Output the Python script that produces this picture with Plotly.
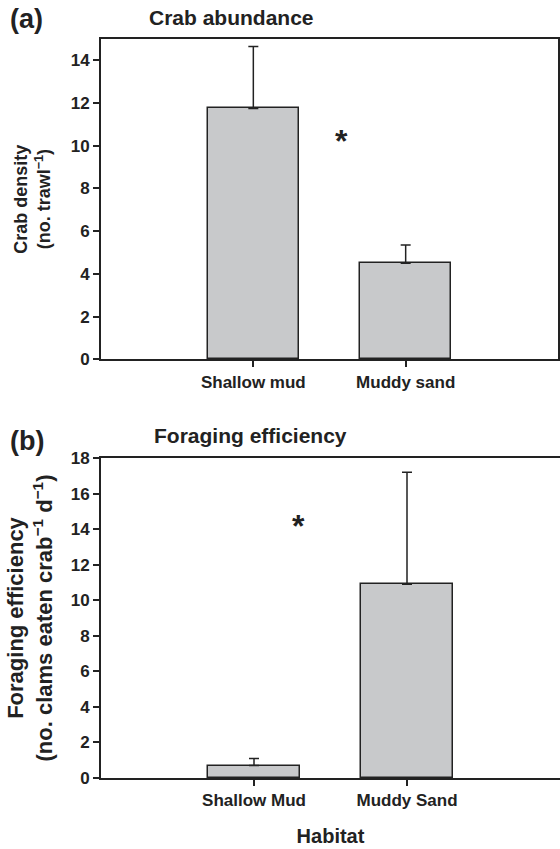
import plotly.graph_objects as go

# Panel (a) data
cats_a = ["Shallow mud", "Muddy sand"]
crab_density = [11.75, 4.5]
crab_err = [2.9, 0.85]

# Panel (b) data
cats_b = ["Shallow Mud", "Muddy Sand"]
forage_eff = [0.7, 10.9]
forage_err = [0.4, 6.3]

xpos = [0, 1]
FONT = "Liberation Sans, Arial, sans-serif"
INK = "#222222"
BAR = "#c8c9cb"

fig = go.Figure()

fig.add_trace(go.Bar(
    x=xpos, y=crab_density, width=0.6, xaxis="x", yaxis="y",
    marker=dict(color=BAR, line=dict(color=INK, width=1.5)),
    error_y=dict(type="data", symmetric=False, array=crab_err,
                 arrayminus=[0, 0], color=INK, thickness=1.5, width=5),
    showlegend=False))

fig.add_trace(go.Bar(
    x=xpos, y=forage_eff, width=0.6, xaxis="x2", yaxis="y2",
    marker=dict(color=BAR, line=dict(color=INK, width=1.5)),
    error_y=dict(type="data", symmetric=False, array=forage_err,
                 arrayminus=[0, 0], color=INK, thickness=1.5, width=5),
    showlegend=False))

tickfont = dict(family=FONT, size=17, color=INK, weight="bold")

W, H = 560, 849
def px_x(p):
    return p / W
def px_y(p):
    return 1 - p / H

fig.update_layout(
    width=W, height=H,
    margin=dict(l=0, r=0, t=0, b=0, pad=0, autoexpand=False),
    paper_bgcolor="white", plot_bgcolor="white",
    bargap=0,
    xaxis=dict(domain=[px_x(101), px_x(558)], anchor="y", range=[-1, 2],
               tickvals=xpos, ticktext=cats_a, ticks="outside", ticklen=6,
               tickwidth=1.5, tickcolor=INK, showline=True, linecolor=INK,
               linewidth=2, mirror=True, showgrid=False, zeroline=False,
               tickfont=tickfont, automargin=False),
    yaxis=dict(domain=[px_y(359.3), px_y(39)], anchor="x", range=[0, 15],
               tickvals=[0, 2, 4, 6, 8, 10, 12, 14], ticks="outside",
               ticklen=6, tickwidth=1.5, tickcolor=INK, showline=True,
               linecolor=INK, linewidth=2, mirror=True, showgrid=False,
               zeroline=False, tickfont=tickfont, automargin=False,
               title=dict(text="Crab density<br>(no. trawl<sup>\u22121</sup>)",
                          font=dict(family=FONT, size=18, color=INK, weight="bold"),
                          standoff=15)),
    xaxis2=dict(domain=[px_x(101), 1.0], anchor="y2", range=[-1, 2],
                tickvals=xpos, ticktext=cats_b, ticks="outside", ticklen=6,
                tickwidth=1.5, tickcolor=INK, showline=True, linecolor=INK,
                linewidth=2, mirror=True, showgrid=False, zeroline=False,
                tickfont=tickfont, automargin=False,
                title=dict(text="Habitat", font=dict(family=FONT, size=20, color=INK, weight="bold"),
                           standoff=20)),
    yaxis2=dict(domain=[px_y(778), px_y(458)], anchor="x2", range=[0, 18],
                tickvals=[0, 2, 4, 6, 8, 10, 12, 14, 16, 18], ticks="outside",
                ticklen=6, tickwidth=1.5, tickcolor=INK, showline=True,
                linecolor=INK, linewidth=2, mirror=False, showgrid=False,
                zeroline=False, tickfont=tickfont, automargin=False,
                title=dict(text="Foraging efficiency<br>(no. clams eaten crab<sup>\u22121</sup> d<sup>\u22121</sup>)",
                           font=dict(family=FONT, size=22, color=INK, weight="bold"),
                           standoff=12)),
    annotations=[
        dict(text="(a)", xref="paper", yref="paper", x=px_x(8), y=px_y(19),
             xanchor="left", yanchor="middle", showarrow=False,
             font=dict(family=FONT, size=27, color=INK, weight="bold")),
        dict(text="Crab abundance", xref="paper", yref="paper", x=px_x(231), y=px_y(17),
             xanchor="center", yanchor="middle", showarrow=False,
             font=dict(family=FONT, size=21, color=INK, weight="bold")),
        dict(text="(b)", xref="paper", yref="paper", x=px_x(8), y=px_y(441),
             xanchor="left", yanchor="middle", showarrow=False,
             font=dict(family=FONT, size=27, color=INK, weight="bold")),
        dict(text="Foraging efficiency", xref="paper", yref="paper", x=px_x(250), y=px_y(435),
             xanchor="center", yanchor="middle", showarrow=False,
             font=dict(family=FONT, size=21, color=INK, weight="bold")),
        dict(text="*", xref="x", yref="y", x=0.58, y=10.22,
             xanchor="center", yanchor="middle", showarrow=False,
             font=dict(family=FONT, size=32, color=INK, weight="bold")),
        dict(text="*", xref="x2", yref="y2", x=0.29, y=14.17,
             xanchor="center", yanchor="middle", showarrow=False,
             font=dict(family=FONT, size=32, color=INK, weight="bold")),
    ],
)

fig.write_html("out.html", config={"displayModeBar": False},
               post_script="document.body.style.margin='0';")
